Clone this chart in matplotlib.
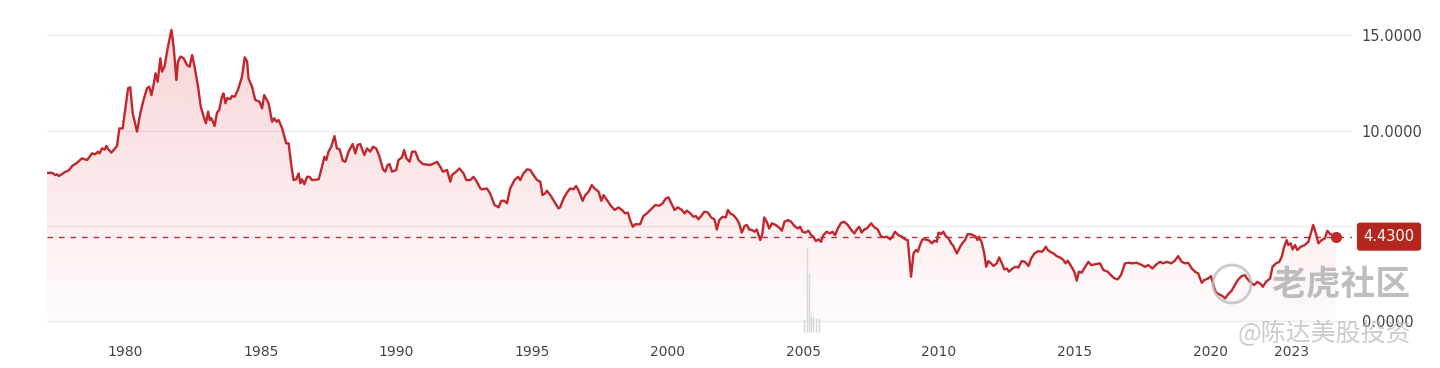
import numpy as np
import matplotlib
matplotlib.use("Agg")
import matplotlib.pyplot as plt
import matplotlib.transforms as mtransforms
from matplotlib.patches import Ellipse

# yield series (decimal year, value)
years = [
    1977.11, 1977.30, 1977.42, 1977.48, 1977.54, 1977.67, 1977.79, 1977.91, 1978.04, 1978.22,
    1978.40, 1978.59, 1978.77, 1978.89, 1978.99, 1979.05, 1979.14, 1979.24, 1979.30, 1979.38,
    1979.48, 1979.57, 1979.69, 1979.78, 1979.90, 1980.10, 1980.18, 1980.27, 1980.43, 1980.55,
    1980.67, 1980.80, 1980.88, 1980.96, 1981.04, 1981.11, 1981.19, 1981.29, 1981.35, 1981.44,
    1981.57, 1981.70, 1981.78, 1981.88, 1981.94, 1982.03, 1982.15, 1982.27, 1982.37, 1982.46,
    1982.55, 1982.68, 1982.78, 1982.89, 1982.97, 1983.05, 1983.11, 1983.17, 1983.23, 1983.29,
    1983.38, 1983.46, 1983.56, 1983.62, 1983.69, 1983.75, 1983.87, 1983.93, 1984.03, 1984.15,
    1984.30, 1984.40, 1984.49, 1984.54, 1984.67, 1984.79, 1984.95, 1985.04, 1985.12, 1985.28,
    1985.41, 1985.49, 1985.57, 1985.65, 1985.78, 1985.93, 1986.02, 1986.11, 1986.20, 1986.30,
    1986.39, 1986.45, 1986.51, 1986.60, 1986.70, 1986.79, 1986.88, 1987.13, 1987.25, 1987.34,
    1987.41, 1987.49, 1987.59, 1987.71, 1987.80, 1987.90, 1988.02, 1988.11, 1988.23, 1988.38,
    1988.48, 1988.56, 1988.66, 1988.81, 1988.91, 1989.03, 1989.13, 1989.25, 1989.37, 1989.50,
    1989.58, 1989.67, 1989.74, 1989.83, 1989.99, 1990.07, 1990.20, 1990.28, 1990.36, 1990.48,
    1990.57, 1990.69, 1990.81, 1990.97, 1991.24, 1991.39, 1991.49, 1991.61, 1991.71, 1991.86,
    1991.98, 1992.04, 1992.20, 1992.32, 1992.47, 1992.57, 1992.72, 1992.84, 1992.96, 1993.09,
    1993.15, 1993.33, 1993.45, 1993.61, 1993.76, 1993.86, 1993.98, 1994.07, 1994.19, 1994.35,
    1994.48, 1994.56, 1994.68, 1994.81, 1994.93, 1995.05, 1995.18, 1995.30, 1995.38, 1995.48,
    1995.54, 1995.67, 1995.82, 1995.97, 1996.03, 1996.16, 1996.28, 1996.40, 1996.52, 1996.62,
    1996.73, 1996.86, 1996.96, 1997.08, 1997.20, 1997.30, 1997.45, 1997.55, 1997.63, 1997.76,
    1997.88, 1998.04, 1998.18, 1998.31, 1998.43, 1998.53, 1998.61, 1998.71, 1998.80, 1998.98,
    1999.10, 1999.23, 1999.41, 1999.54, 1999.68, 1999.81, 1999.93, 2000.03, 2000.13, 2000.25,
    2000.37, 2000.52, 2000.62, 2000.70, 2000.83, 2000.95, 2001.04, 2001.13, 2001.23, 2001.35,
    2001.48, 2001.60, 2001.72, 2001.81, 2001.90, 2002.02, 2002.14, 2002.22, 2002.30, 2002.42,
    2002.55, 2002.63, 2002.73, 2002.83, 2002.92, 2003.00, 2003.10, 2003.20, 2003.28, 2003.41,
    2003.49, 2003.56, 2003.65, 2003.74, 2003.84, 2003.98, 2004.11, 2004.21, 2004.30, 2004.43,
    2004.55, 2004.67, 2004.80, 2004.88, 2004.97, 2005.06, 2005.19, 2005.29, 2005.37, 2005.46,
    2005.56, 2005.65, 2005.74, 2005.86, 2005.99, 2006.07, 2006.17, 2006.27, 2006.39, 2006.51,
    2006.64, 2006.79, 2006.88, 2006.97, 2007.06, 2007.15, 2007.25, 2007.34, 2007.50, 2007.62,
    2007.74, 2007.87, 2007.99, 2008.08, 2008.20, 2008.26, 2008.38, 2008.50, 2008.63, 2008.75,
    2008.85, 2008.91, 2008.97, 2009.06, 2009.15, 2009.22, 2009.30, 2009.39, 2009.51, 2009.64,
    2009.74, 2009.83, 2009.92, 2009.98, 2010.08, 2010.16, 2010.25, 2010.35, 2010.45, 2010.53,
    2010.66, 2010.78, 2010.86, 2010.96, 2011.06, 2011.18, 2011.27, 2011.36, 2011.42, 2011.48,
    2011.58, 2011.67, 2011.74, 2011.82, 2011.92, 2012.01, 2012.13, 2012.22, 2012.32, 2012.41,
    2012.50, 2012.58, 2012.71, 2012.83, 2012.93, 2013.05, 2013.17, 2013.30, 2013.40, 2013.52,
    2013.66, 2013.81, 2013.94, 2014.01, 2014.10, 2014.22, 2014.34, 2014.46, 2014.59, 2014.67,
    2014.75, 2014.87, 2014.99, 2015.08, 2015.16, 2015.26, 2015.39, 2015.51, 2015.61, 2015.75,
    2015.94, 2016.06, 2016.22, 2016.34, 2016.47, 2016.59, 2016.71, 2016.86, 2016.98, 2017.13,
    2017.29, 2017.48, 2017.60, 2017.72, 2017.87, 2017.99, 2018.15, 2018.27, 2018.40, 2018.56,
    2018.70, 2018.82, 2018.95, 2019.07, 2019.19, 2019.32, 2019.44, 2019.56, 2019.69, 2019.78,
    2019.93, 2020.03, 2020.12, 2020.20, 2020.30, 2020.40, 2020.48, 2020.55, 2020.67, 2020.79,
    2020.91, 2021.04, 2021.16, 2021.28, 2021.35, 2021.47, 2021.62, 2021.74, 2021.86, 2021.94,
    2022.06, 2022.21, 2022.30, 2022.43, 2022.55, 2022.64, 2022.73, 2022.82, 2022.88, 2022.97,
    2023.04, 2023.13, 2023.21, 2023.34, 2023.49, 2023.62, 2023.71, 2023.80, 2023.90, 2023.99,
    2024.11, 2024.23, 2024.32, 2024.42, 2024.52, 2024.63,
]
yields = [
    7.78, 7.78, 7.66, 7.70, 7.61, 7.72, 7.84, 7.90, 8.14, 8.31,
    8.54, 8.45, 8.80, 8.75, 8.89, 8.80, 9.06, 9.00, 9.19, 9.00,
    8.84, 8.98, 9.19, 10.11, 10.11, 12.22, 12.27, 10.90, 9.94, 10.90,
    11.60, 12.22, 12.30, 11.86, 12.39, 13.00, 12.56, 13.79, 13.09, 13.35,
    14.40, 15.28, 14.40, 12.65, 13.62, 13.88, 13.79, 13.44, 13.35, 13.96,
    13.35, 12.30, 11.25, 10.72, 10.38, 10.99, 10.55, 10.65, 10.46, 10.24,
    10.94, 11.08, 11.77, 11.95, 11.43, 11.70, 11.65, 11.81, 11.77, 12.13,
    12.82, 13.84, 13.62, 12.74, 12.30, 11.60, 11.51, 11.16, 11.86, 11.43,
    10.46, 10.64, 10.46, 10.55, 10.11, 9.33, 9.33, 8.27, 7.40, 7.44,
    7.75, 7.23, 7.44, 7.18, 7.57, 7.57, 7.40, 7.44, 8.10, 8.62,
    8.45, 8.89, 9.15, 9.71, 9.06, 9.01, 8.41, 8.36, 8.89, 9.29,
    8.80, 9.24, 9.29, 8.71, 9.06, 8.89, 9.15, 9.06, 8.62, 7.96,
    7.84, 8.19, 8.24, 7.84, 7.93, 8.45, 8.59, 8.98, 8.54, 8.36,
    8.89, 8.89, 8.45, 8.24, 8.19, 8.28, 8.36, 8.10, 7.84, 7.93,
    7.31, 7.66, 7.84, 8.01, 7.75, 7.40, 7.40, 7.57, 7.31, 6.96,
    6.91, 6.96, 6.70, 6.09, 5.97, 6.31, 6.31, 6.18, 6.96, 7.40,
    7.57, 7.40, 7.75, 7.96, 7.93, 7.66, 7.40, 7.31, 6.61, 6.70,
    6.84, 6.61, 6.26, 5.91, 5.97, 6.44, 6.74, 6.96, 6.91, 7.09,
    6.79, 6.31, 6.61, 6.79, 7.14, 6.96, 6.79, 6.31, 6.61, 6.35,
    6.09, 5.83, 5.96, 5.83, 5.65, 5.69, 5.30, 4.95, 5.08, 5.08,
    5.51, 5.65, 5.91, 6.09, 6.05, 6.18, 6.44, 6.49, 6.18, 5.83,
    5.97, 5.83, 5.65, 5.80, 5.65, 5.47, 5.51, 5.34, 5.51, 5.74,
    5.70, 5.44, 5.34, 4.81, 5.30, 5.47, 5.44, 5.83, 5.65, 5.56,
    5.34, 5.13, 4.64, 4.99, 5.04, 4.81, 4.78, 4.69, 4.81, 4.25,
    4.60, 5.44, 5.21, 4.86, 5.13, 5.04, 4.90, 4.74, 5.21, 5.30,
    5.21, 4.99, 4.86, 4.95, 4.69, 4.64, 4.74, 4.51, 4.43, 4.20,
    4.29, 4.16, 4.51, 4.69, 4.60, 4.69, 4.51, 4.86, 5.16, 5.21,
    5.04, 4.74, 4.60, 4.81, 4.95, 4.64, 4.81, 4.86, 5.13, 4.92,
    4.81, 4.43, 4.40, 4.43, 4.29, 4.38, 4.69, 4.51, 4.43, 4.29,
    4.25, 3.29, 2.33, 3.55, 3.73, 3.64, 3.99, 4.29, 4.29, 4.22,
    4.08, 4.22, 4.16, 4.64, 4.57, 4.69, 4.46, 4.34, 4.08, 3.94,
    3.55, 3.90, 4.08, 4.25, 4.57, 4.55, 4.50, 4.43, 4.25, 4.43,
    4.11, 3.55, 2.85, 3.15, 3.03, 2.89, 3.03, 3.34, 3.03, 2.71,
    2.76, 2.59, 2.76, 2.85, 2.81, 3.15, 3.11, 2.89, 3.29, 3.55,
    3.67, 3.64, 3.90, 3.73, 3.64, 3.55, 3.41, 3.34, 3.20, 3.03,
    3.17, 2.89, 2.59, 2.12, 2.59, 2.54, 2.85, 3.11, 2.94, 2.98,
    3.03, 2.68, 2.59, 2.41, 2.24, 2.19, 2.41, 3.03, 3.06, 3.03,
    3.06, 2.94, 2.85, 2.94, 2.76, 2.94, 3.11, 3.03, 3.11, 3.03,
    3.17, 3.41, 3.11, 3.03, 3.06, 2.76, 2.59, 2.50, 2.01, 2.15,
    2.24, 2.36, 1.89, 1.54, 1.42, 1.36, 1.28, 1.19, 1.42, 1.59,
    1.89, 2.19, 2.36, 2.41, 2.25, 2.06, 1.89, 2.06, 1.95, 1.80,
    2.06, 2.24, 2.85, 3.03, 3.11, 3.38, 3.90, 4.25, 3.99, 4.08,
    3.76, 3.99, 3.73, 3.90, 3.99, 4.16, 4.60, 5.04, 4.60, 4.08,
    4.25, 4.34, 4.74, 4.57, 4.51, 4.43,
]
last_value = 4.43

# small grey volume-like ticks near 2005
vol_years = [2005.04, 2005.13, 2005.21, 2005.28, 2005.37, 2005.47, 2005.57]
vol_tops = [0.10, 3.82, 2.52, 0.30, 0.20, 0.15, 0.15]
vol_base = -0.55

tick_years = [1980, 1985, 1990, 1995, 2000, 2005, 2010, 2015, 2020, 2023]
y_ticks = [0, 5, 10, 15]
y_labels = ["0.0000", "", "10.0000", "15.0000"]

RED = "#c1272d"

fig = plt.figure(figsize=(14.4, 3.68), dpi=100)
ax = fig.add_axes([0.03264, 0.0897, 0.90625, 0.8560])
x0, x1 = 1977.11, 2025.23
ax.set_xlim(x0, x1)
ax.set_ylim(-0.73, 15.80)

# gridlines
for v in y_ticks:
    ax.axhline(v, color="#ececec", lw=1.0, zorder=0)

# gradient fill under the line
x = np.array(years)
y = np.array(yields)
poly = ax.fill_between(x, y, 0, color="none", lw=0)
grad = np.linspace(0.02, 0.21, 256).reshape(-1, 1)
rgba = np.zeros((256, 1, 4))
rgba[..., 0] = 0.86
rgba[..., 1] = 0.20
rgba[..., 2] = 0.25
rgba[..., 3] = grad
img = ax.imshow(rgba, extent=[x0, x1, 0, 15.5], origin="lower", aspect="auto", zorder=1)
img.set_clip_path(poly.get_paths()[0], transform=ax.transData)

# grey ticks
ax.vlines(vol_years, vol_base, vol_tops, color="#d6d6d6", lw=1.0, zorder=1)

ax.plot(x, y, color=RED, lw=1.7, zorder=3, solid_joinstyle="round")

# current value line and marker
ax.axhline(last_value, color="#b5323a", lw=1.0, dashes=(4, 4.3), zorder=2)
ax.plot([years[-1]], [yields[-1]], "o", color=RED, ms=7, zorder=4)

trans = mtransforms.blended_transform_factory(ax.transAxes, ax.transData)
ax.text(1.0284, last_value, "4.4300", transform=trans, ha="center", va="center",
        color="white", fontsize=10.5,
        bbox=dict(boxstyle="round,pad=0.45,rounding_size=0.2", fc="#b3261e", ec="none"),
        clip_on=False, zorder=5)

ax.set_xticks(tick_years)
ax.set_xticklabels([str(t) for t in tick_years])
ax.set_yticks(y_ticks)
ax.set_yticklabels(y_labels)
ax.yaxis.tick_right()
ax.tick_params(axis="x", length=0, pad=7, labelsize=10, labelcolor="#444444")
ax.tick_params(axis="y", length=0, pad=7, labelsize=10.5, labelcolor="#444444")
for s in ax.spines.values():
    s.set_visible(False)

# watermark
fig.patches.append(Ellipse((1232 / 1440, 1 - 284 / 368), 38 / 1440, 38 / 368,
                           transform=fig.transFigure, fill=False, ec="#bdbdbd",
                           lw=2, alpha=0.8, zorder=6))
fig.text(0.931, 0.228, "老虎社区", family=["Noto Sans CJK SC"], fontweight="bold",
         fontsize=25, color="#a9a9a9", alpha=0.75, ha="center", va="center", zorder=6)
fig.text(0.920, 0.092, "@陈达美股投资", family=["Noto Sans CJK SC", "DejaVu Sans"],
         fontsize=18, color="#bcbcbc", alpha=0.75, ha="center", va="center", zorder=6)

fig.savefig("out.png", dpi=100, facecolor="white")
